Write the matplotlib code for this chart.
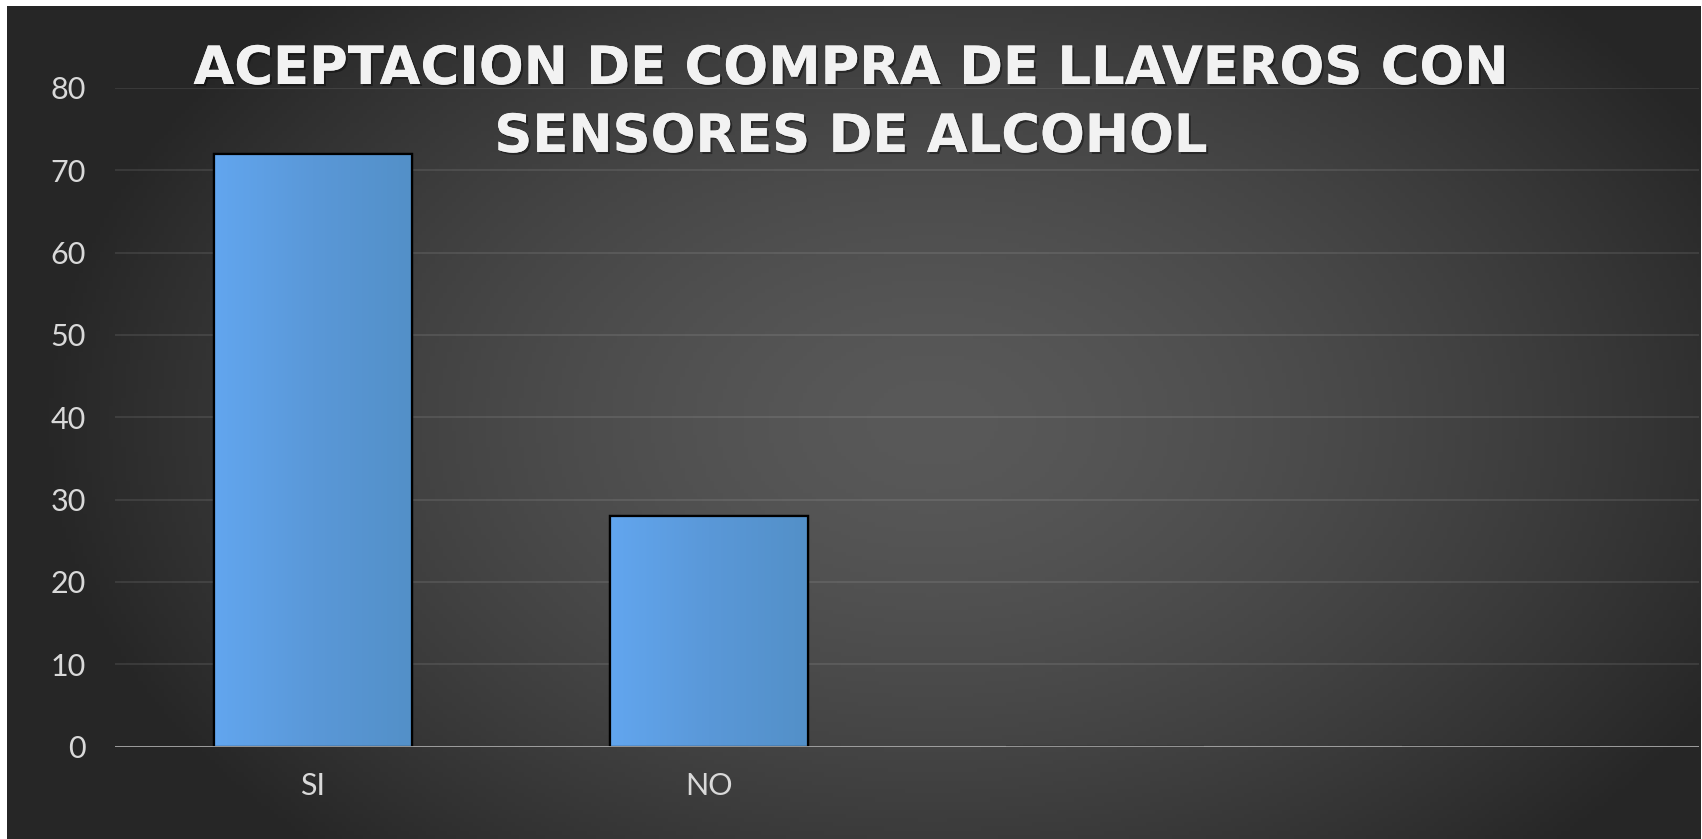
import numpy as np
import matplotlib
matplotlib.use('Agg')
import matplotlib.pyplot as plt
import matplotlib.patheffects as pe
from matplotlib.colors import LinearSegmentedColormap

categories = ['SI', 'NO', '', '']
values = [72, 28, 0, 0]
title_lines = ['ACEPTACION DE COMPRA DE LLAVEROS CON', 'SENSORES DE ALCOHOL']
y_ticks = [0, 10, 20, 30, 40, 50, 60, 70, 80]

W, H = 1702, 839
fig = plt.figure(figsize=(W / 100, H / 100), dpi=100, facecolor='white')

# dark radial background (white margin on top / left like the original)
bg = fig.add_axes([7 / W, 0, (W - 8) / W, (H - 6) / H])
bg.set_axis_off()
xx, yy = np.meshgrid(np.linspace(0, W, 400), np.linspace(0, H, 200))
r = np.sqrt(((xx - 930) / 900) ** 2 + ((yy - 420) / 600) ** 2)
r = np.clip(r, 0, 1) ** 1.5
shade = (0x59 - (0x59 - 0x26) * r) / 255
bg.imshow(np.dstack([shade, shade, shade]), aspect='auto', extent=[0, W, H, 0])

# main axes
left, right = 115, 1699
y0, y80 = 746.6, 88
ax = fig.add_axes([left / W, (H - y0) / H, (right - left) / W, (y0 - y80) / H])
ax.set_facecolor('none')

x = np.arange(len(categories))
bars = ax.bar(x, values, width=0.5, color='#5b9ade', edgecolor='black', linewidth=1.6, zorder=3)

# soft gradient inside the bars
cmap = LinearSegmentedColormap.from_list('barg', ['#62a6ef', '#5a98d8', '#5390c8'])
grad = np.linspace(0, 1, 256).reshape(1, -1)
for b, v in zip(bars, values):
    if v <= 0:
        continue
    im = ax.imshow(grad, cmap=cmap, aspect='auto', zorder=3.5,
                   extent=[b.get_x(), b.get_x() + b.get_width(), 0, v])
    im.set_clip_path(b)
    ax.bar(b.get_x() + b.get_width() / 2, v, width=b.get_width(), fill=False,
           edgecolor='black', linewidth=1.6, zorder=4)

ax.set_xlim(-0.5, len(categories) - 0.5)
ax.set_ylim(0, 80)
ax.set_yticks(y_ticks)
ax.set_xticks(x)
ax.set_xticklabels(categories)

for s in ax.spines.values():
    s.set_visible(False)
ax.axhline(0, color='#a6a6a6', linewidth=2, zorder=5)
ax.grid(axis='y', color='white', alpha=0.09, linewidth=1.5, zorder=0)
ax.set_axisbelow(True)

ax.tick_params(axis='y', length=0, pad=21, labelsize=22, labelcolor='#d9d9d9')
ax.tick_params(axis='x', length=0, pad=18, labelsize=22, labelcolor='#d9d9d9')
for lab in ax.get_yticklabels() + ax.get_xticklabels():
    lab.set_fontfamily(['Lato', 'DejaVu Sans'])

shadow = [pe.withSimplePatchShadow(offset=(1.5, -1.5), shadow_rgbFace='black', alpha=0.4), pe.Normal()]
for line, yb in zip(title_lines, [84, 152]):
    fig.text(0.5, 1 - yb / H, line, ha='center', va='baseline', color='#f2f2f2',
             fontsize=38, fontweight='bold', family='DejaVu Sans', path_effects=shadow)

fig.savefig('out.png', dpi=100, facecolor=fig.get_facecolor())
